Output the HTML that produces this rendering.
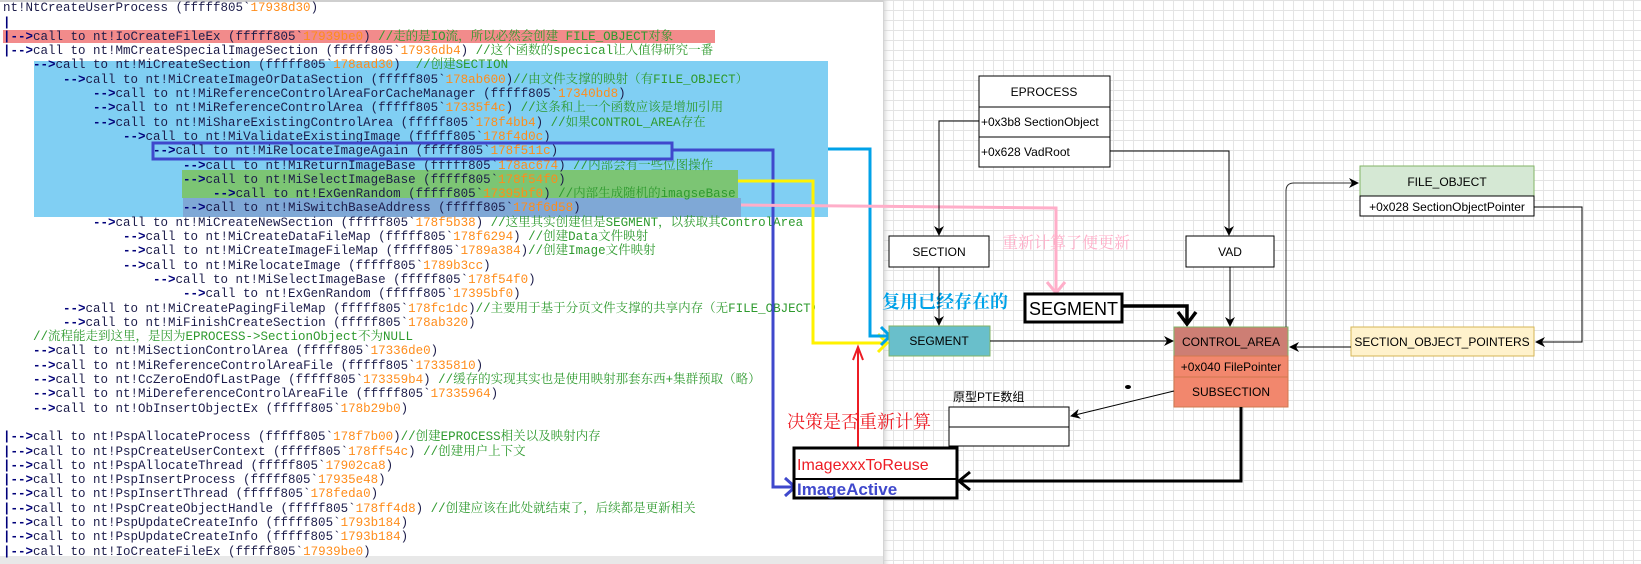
<!DOCTYPE html>
<html><head><meta charset="utf-8">
<style>
html,body{margin:0;padding:0;}
body{width:1641px;height:564px;position:relative;overflow:hidden;background:#fff;}
#grid{position:absolute;left:883px;top:0;width:758px;height:564px;
background-color:#fff;
background-image:linear-gradient(to right,#e4e4e4 1px,transparent 1px),linear-gradient(to bottom,#e4e4e4 1px,transparent 1px);
background-size:10px 10px;box-shadow:inset 6px 0 6px -4px #ccc;}
.hl{position:absolute;}
pre{position:absolute;left:3px;top:1.3px;margin:0;font-family:"Liberation Mono","Noto Sans CJK SC",monospace;font-size:12.5px;line-height:14.3px;color:#1c1c4a;white-space:pre;}
.o{color:#ff8c1a}.g{color:#2e9a2e;font-family:"Liberation Mono","Noto Serif CJK SC",serif}.a{color:#00007a;font-weight:bold}
svg{position:absolute;left:0;top:0;}
svg text{font-family:"Liberation Sans",sans-serif;}
</style></head><body>
<div style="position:absolute;left:0;top:0;width:883px;height:2px;background:#cfcfcf"></div>
<div id="grid"></div>
<div class="hl" style="left:3px;top:30px;width:712px;height:13px;background:#f28b8b"></div>
<div class="hl" style="left:34px;top:61px;width:794px;height:156px;background:#80cff3"></div>
<div class="hl" style="left:182px;top:170px;width:556px;height:28px;background:#7cc574"></div>
<div class="hl" style="left:183px;top:198px;width:558px;height:19px;background:#7fa8d6"></div>
<div style="position:absolute;left:0;top:556px;width:883px;height:8px;background:#e8e8e8"></div>
<pre>nt!NtCreateUserProcess (fffff805`<span class="o">17938d30</span>)
<span class="a">|</span>
<span class="a">|--&gt;</span>call to nt!IoCreateFileEx (fffff805`<span class="o">17939be0</span>) <span class="g">//走的是IO流，所以必然会创建 FILE_OBJECT对象</span>
<span class="a">|--&gt;</span>call to nt!MmCreateSpecialImageSection (fffff805`<span class="o">17936db4</span>) <span class="g">//这个函数的specical让人值得研究一番</span>
    <span class="a">--&gt;</span>call to nt!MiCreateSection (fffff805`<span class="o">178aad30</span>)  <span class="g">//创建SECTION</span>
        <span class="a">--&gt;</span>call to nt!MiCreateImageOrDataSection (fffff805`<span class="o">178ab600</span>)<span class="g">//由文件支撑的映射（有FILE_OBJECT）</span>
            <span class="a">--&gt;</span>call to nt!MiReferenceControlAreaForCacheManager (fffff805`<span class="o">17340bd8</span>)
            <span class="a">--&gt;</span>call to nt!MiReferenceControlArea (fffff805`<span class="o">17335f4c</span>) <span class="g">//这条和上一个函数应该是增加引用</span>
            <span class="a">--&gt;</span>call to nt!MiShareExistingControlArea (fffff805`<span class="o">178f4bb4</span>) <span class="g">//如果CONTROL_AREA存在</span>
                <span class="a">--&gt;</span>call to nt!MiValidateExistingImage (fffff805`<span class="o">178f4d0c</span>)
                    <span class="a">--&gt;</span>call to nt!MiRelocateImageAgain (fffff805`<span class="o">178f511c</span>)
                        <span class="a">--&gt;</span>call to nt!MiReturnImageBase (fffff805`<span class="o">178ac674</span>) <span class="g">//内部会有一些位图操作</span>
                        <span class="a">--&gt;</span>call to nt!MiSelectImageBase (fffff805`<span class="o">178f54f0</span>)
                            <span class="a">--&gt;</span>call to nt!ExGenRandom (fffff805`<span class="o">17395bf0</span>) <span class="g">//内部生成随机的imagseBase</span>
                        <span class="a">--&gt;</span>call to nt!MiSwitchBaseAddress (fffff805`<span class="o">178f6d58</span>)
            <span class="a">--&gt;</span>call to nt!MiCreateNewSection (fffff805`<span class="o">178f5b38</span>) <span class="g">//这里其实创建但是SEGMENT，以获取其ControlArea</span>
                <span class="a">--&gt;</span>call to nt!MiCreateDataFileMap (fffff805`<span class="o">178f6294</span>) <span class="g">//创建Data文件映射</span>
                <span class="a">--&gt;</span>call to nt!MiCreateImageFileMap (fffff805`<span class="o">1789a384</span>)<span class="g">//创建Image文件映射</span>
                <span class="a">--&gt;</span>call to nt!MiRelocateImage (fffff805`<span class="o">1789b3cc</span>)
                    <span class="a">--&gt;</span>call to nt!MiSelectImageBase (fffff805`<span class="o">178f54f0</span>)
                        <span class="a">--&gt;</span>call to nt!ExGenRandom (fffff805`<span class="o">17395bf0</span>)
        <span class="a">--&gt;</span>call to nt!MiCreatePagingFileMap (fffff805`<span class="o">178fc1dc</span>)<span class="g">//主要用于基于分页文件支撑的共享内存（无FILE_OBJECT）</span>
        <span class="a">--&gt;</span>call to nt!MiFinishCreateSection (fffff805`<span class="o">178ab320</span>)
    <span class="g">//流程能走到这里，是因为EPROCESS-&gt;SectionObject不为NULL</span>
    <span class="a">--&gt;</span>call to nt!MiSectionControlArea (fffff805`<span class="o">17336de0</span>)
    <span class="a">--&gt;</span>call to nt!MiReferenceControlAreaFile (fffff805`<span class="o">17335810</span>)
    <span class="a">--&gt;</span>call to nt!CcZeroEndOfLastPage (fffff805`<span class="o">173359b4</span>) <span class="g">//缓存的实现其实也是使用映射那套东西+集群预取（略）</span>
    <span class="a">--&gt;</span>call to nt!MiDereferenceControlAreaFile (fffff805`<span class="o">17335964</span>)
    <span class="a">--&gt;</span>call to nt!ObInsertObjectEx (fffff805`<span class="o">178b29b0</span>)

<span class="a">|--&gt;</span>call to nt!PspAllocateProcess (fffff805`<span class="o">178f7b00</span>)<span class="g">//创建EPROCESS相关以及映射内存</span>
<span class="a">|--&gt;</span>call to nt!PspCreateUserContext (fffff805`<span class="o">178ff54c</span>) <span class="g">//创建用户上下文</span>
<span class="a">|--&gt;</span>call to nt!PspAllocateThread (fffff805`<span class="o">17902ca8</span>)
<span class="a">|--&gt;</span>call to nt!PspInsertProcess (fffff805`<span class="o">17935e48</span>)
<span class="a">|--&gt;</span>call to nt!PspInsertThread (fffff805`<span class="o">178feda0</span>)
<span class="a">|--&gt;</span>call to nt!PspCreateObjectHandle (fffff805`<span class="o">178ff4d8</span>) <span class="g">//创建应该在此处就结束了，后续都是更新相关</span>
<span class="a">|--&gt;</span>call to nt!PspUpdateCreateInfo (fffff805`<span class="o">1793b184</span>)
<span class="a">|--&gt;</span>call to nt!PspUpdateCreateInfo (fffff805`<span class="o">1793b184</span>)
<span class="a">|--&gt;</span>call to nt!IoCreateFileEx (fffff805`<span class="o">17939be0</span>)</pre>

<svg width="1641" height="564" viewBox="0 0 1641 564">
<defs>
<marker id="ar" markerWidth="10" markerHeight="10" refX="9" refY="5" orient="auto" markerUnits="userSpaceOnUse"><path d="M0,0 L10,5 L0,10 L3,5 z" fill="#000"/></marker>
</defs>
<!-- dark blue outline box & connector -->
<rect x="153" y="143" width="519" height="16" fill="none" stroke="#3f48cc" stroke-width="3"/>
<polyline points="672,150 773,150 773,487 793,487" fill="none" stroke="#3f48cc" stroke-width="3"/>
<polyline points="785,478 795,487 785,496" fill="none" stroke="#3f48cc" stroke-width="3"/>
<!-- yellow -->
<polyline points="738,181 813,181 813,343 886,343" fill="none" stroke="#fff200" stroke-width="3"/>
<polyline points="878,334 887,343 878,352" fill="none" stroke="#fff200" stroke-width="3"/>
<!-- cyan -->
<polyline points="828,149 870,149 870,336 889,336" fill="none" stroke="#00a2e8" stroke-width="3"/>
<polyline points="881,327 890,336 881,345" fill="none" stroke="#00a2e8" stroke-width="3"/>
<!-- pink -->
<polyline points="741,205 1056,208 1056,292" fill="none" stroke="#ffaec9" stroke-width="3"/>
<polyline points="1047,282 1056,293 1065,282" fill="none" stroke="#ffaec9" stroke-width="3"/>
<text x="1002" y="248" font-size="16" fill="#ffaec9" style="font-family:'Noto Serif CJK SC',serif">重新计算了便更新</text>
<text x="882" y="308" font-size="18" fill="#00a2e8" font-weight="bold" style="font-family:'Noto Serif CJK SC',serif">复用已经存在的</text>
<text x="787" y="428" font-size="18" fill="#ed1c24" style="font-family:'Noto Serif CJK SC',serif">决策是否重新计算</text>
<!-- red arrow -->
<line x1="858" y1="453" x2="858" y2="350" stroke="#ed1c24" stroke-width="2"/>
<path d="M853,360 L858,347 L863,360" fill="none" stroke="#ed1c24" stroke-width="2"/>
<!-- EPROCESS -->
<rect x="979" y="76" width="131" height="91" fill="#fff" stroke="#000"/>
<line x1="979" y1="107" x2="1110" y2="107" stroke="#000"/>
<line x1="979" y1="137" x2="1110" y2="137" stroke="#000"/>
<text x="1044" y="96" font-size="12" text-anchor="middle">EPROCESS</text>
<text x="981" y="126" font-size="12">+0x3b8 SectionObject</text>
<text x="981" y="156" font-size="12">+0x628 VadRoot</text>
<polyline points="979,121 939,121 939,235" fill="none" stroke="#000" marker-end="url(#ar)"/>
<polyline points="1110,151 1229,151 1229,235" fill="none" stroke="#000" marker-end="url(#ar)"/>
<!-- SECTION / VAD -->
<rect x="889" y="236" width="100" height="31" fill="#fff" stroke="#000"/>
<text x="939" y="256" font-size="12" text-anchor="middle">SECTION</text>
<rect x="1186" y="236" width="88" height="31" fill="#fff" stroke="#000"/>
<text x="1230" y="256" font-size="12" text-anchor="middle">VAD</text>
<line x1="939" y1="267" x2="939" y2="325" stroke="#000" marker-end="url(#ar)"/>
<line x1="1230" y1="267" x2="1230" y2="326" stroke="#000" marker-end="url(#ar)"/>
<!-- SEGMENT teal -->
<rect x="889" y="326" width="101" height="30" fill="#69bfcb" stroke="#82b366"/>
<text x="939" y="345" font-size="12" text-anchor="middle">SEGMENT</text>
<line x1="990" y1="341" x2="1173" y2="341" stroke="#000" marker-end="url(#ar)"/>
<!-- SEGMENT bold -->
<rect x="1025" y="294" width="97" height="28" fill="#fff" stroke="#000" stroke-width="3"/>
<text x="1029" y="315" font-size="18">SEGMENT</text>
<polyline points="1122,306 1187,306 1187,322" fill="none" stroke="#000" stroke-width="3.5"/>
<polyline points="1178,312 1187,324 1196,312" fill="none" stroke="#000" stroke-width="3.5"/>
<!-- CONTROL_AREA -->
<rect x="1174" y="327" width="114" height="29" fill="#cd7e74" stroke="#82b366"/>
<rect x="1174" y="356" width="114" height="21" fill="#f2876d" stroke="#d07a50"/>
<rect x="1174" y="377" width="114" height="30" fill="#f2876d" stroke="#d07a50"/>
<text x="1231" y="346" font-size="12" text-anchor="middle">CONTROL_AREA</text>
<text x="1231" y="371" font-size="12" text-anchor="middle">+0x040 FilePointer</text>
<text x="1231" y="396" font-size="12" text-anchor="middle">SUBSECTION</text>
<!-- FILE_OBJECT -->
<rect x="1360" y="166" width="174" height="30" fill="#d5e8d4" stroke="#82b366"/>
<rect x="1360" y="196" width="174" height="20" fill="#fff" stroke="#000"/>
<text x="1447" y="186" font-size="12" text-anchor="middle">FILE_OBJECT</text>
<text x="1447" y="211" font-size="12" text-anchor="middle">+0x028 SectionObjectPointer</text>
<path d="M1286,327 L1286,191 Q1286,183 1294,183 L1358,183" fill="none" stroke="#333" marker-end="url(#ar)"/>
<polyline points="1534,207 1582,207 1582,342 1536,342" fill="none" stroke="#000" marker-end="url(#ar)"/>
<!-- SOP -->
<rect x="1351" y="327" width="183" height="29" fill="#fff2cc" stroke="#d6b656"/>
<text x="1442" y="346" font-size="12" text-anchor="middle">SECTION_OBJECT_POINTERS</text>
<line x1="1351" y1="347" x2="1290" y2="347" stroke="#000" marker-end="url(#ar)"/>
<!-- PTE -->
<text x="953" y="401" font-size="12" style="font-family:'Liberation Sans','Noto Sans CJK SC',sans-serif">原型PTE数组</text>
<rect x="949" y="407" width="120" height="39" fill="#fff" stroke="#000"/>
<line x1="949" y1="427" x2="1069" y2="427" stroke="#000"/>
<line x1="1174" y1="391" x2="1071" y2="416" stroke="#000" marker-end="url(#ar)"/>
<ellipse cx="1128" cy="387" rx="3" ry="2" fill="#000"/>
<!-- Image box -->
<rect x="794" y="448" width="163" height="50" fill="#fff" stroke="#000" stroke-width="3"/>
<line x1="794" y1="479" x2="957" y2="479" stroke="#000" stroke-width="2"/>
<text x="797" y="470" font-size="16" fill="#ed1c24">ImagexxxToReuse</text>
<text x="797" y="495" font-size="17" fill="#3f48cc" font-weight="bold">ImageActive</text>
<polyline points="1241,407 1241,481 960,481" fill="none" stroke="#000" stroke-width="3"/>
<polyline points="970,472 959,481 970,490" fill="none" stroke="#000" stroke-width="3"/>
</svg>
</body></html>
